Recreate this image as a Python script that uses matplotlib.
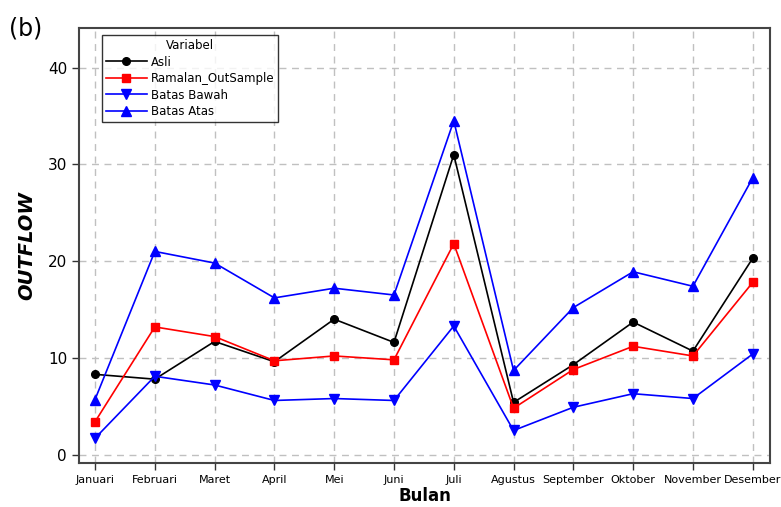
import numpy as np
import matplotlib
matplotlib.use("Agg")
import matplotlib.pyplot as plt

# data
bulan = ["Januari", "Februari", "Maret", "April", "Mei", "Juni", "Juli",
         "Agustus", "September", "Oktober", "November", "Desember"]
asli = [8.3, 7.8, 11.7, 9.6, 14.0, 11.6, 31.0, 5.4, 9.3, 13.7, 10.7, 20.3]
ramalan = [3.4, 13.2, 12.2, 9.7, 10.2, 9.8, 21.8, 4.8, 8.8, 11.2, 10.2, 17.8]
batas_bawah = [1.7, 8.1, 7.2, 5.6, 5.8, 5.6, 13.3, 2.5, 4.9, 6.3, 5.8, 10.4]
batas_atas = [5.7, 21.0, 19.8, 16.2, 17.2, 16.5, 34.5, 8.7, 15.2, 18.9, 17.4, 28.6]

x = np.arange(len(bulan))

fig = plt.figure(figsize=(7.81, 5.07), dpi=100)
ax = fig.add_axes([0.101, 0.087, 0.885, 0.858])

ax.plot(x, asli, color="black", marker="o", markersize=5.5, lw=1.2, label="Asli")
ax.plot(x, ramalan, color="red", marker="s", markersize=5.5, lw=1.2, label="Ramalan_OutSample")
ax.plot(x, batas_bawah, color="blue", marker="v", markersize=7, lw=1.2, label="Batas Bawah")
ax.plot(x, batas_atas, color="blue", marker="^", markersize=7, lw=1.2, label="Batas Atas")

ax.set_xlim(-0.27, 11.29)
ax.set_ylim(-0.85, 44.1)
ax.set_xticks(x)
ax.set_xticklabels(bulan, fontsize=8)
ax.set_yticks([0, 10, 20, 30, 40])
ax.tick_params(axis="y", labelsize=11)
ax.tick_params(direction="out", length=5, width=1, color="#333333")
ax.grid(True, linestyle=(0, (5, 4)), color="#c0c0c0", lw=1)
ax.set_axisbelow(True)
for s in ax.spines.values():
    s.set_color("#444444")
    s.set_linewidth(1.5)

ax.set_xlabel("Bulan", fontsize=12, fontweight="bold", labelpad=2)
ax.set_ylabel("OUTFLOW", fontsize=14, fontweight="bold", style="italic", labelpad=8)

leg = ax.legend(title="Variabel", loc="upper left", bbox_to_anchor=(0.033, 0.984),
                borderaxespad=0, fontsize=8.5, title_fontsize=8.5, frameon=True,
                fancybox=False, borderpad=0.35, labelspacing=0.3,
                handlelength=3.5, handletextpad=0.3)
leg.get_frame().set_edgecolor("black")
leg.get_frame().set_linewidth(1)

fig.text(0.012, 0.93, "(b)", fontsize=17)

fig.savefig("out.png", dpi=100)
